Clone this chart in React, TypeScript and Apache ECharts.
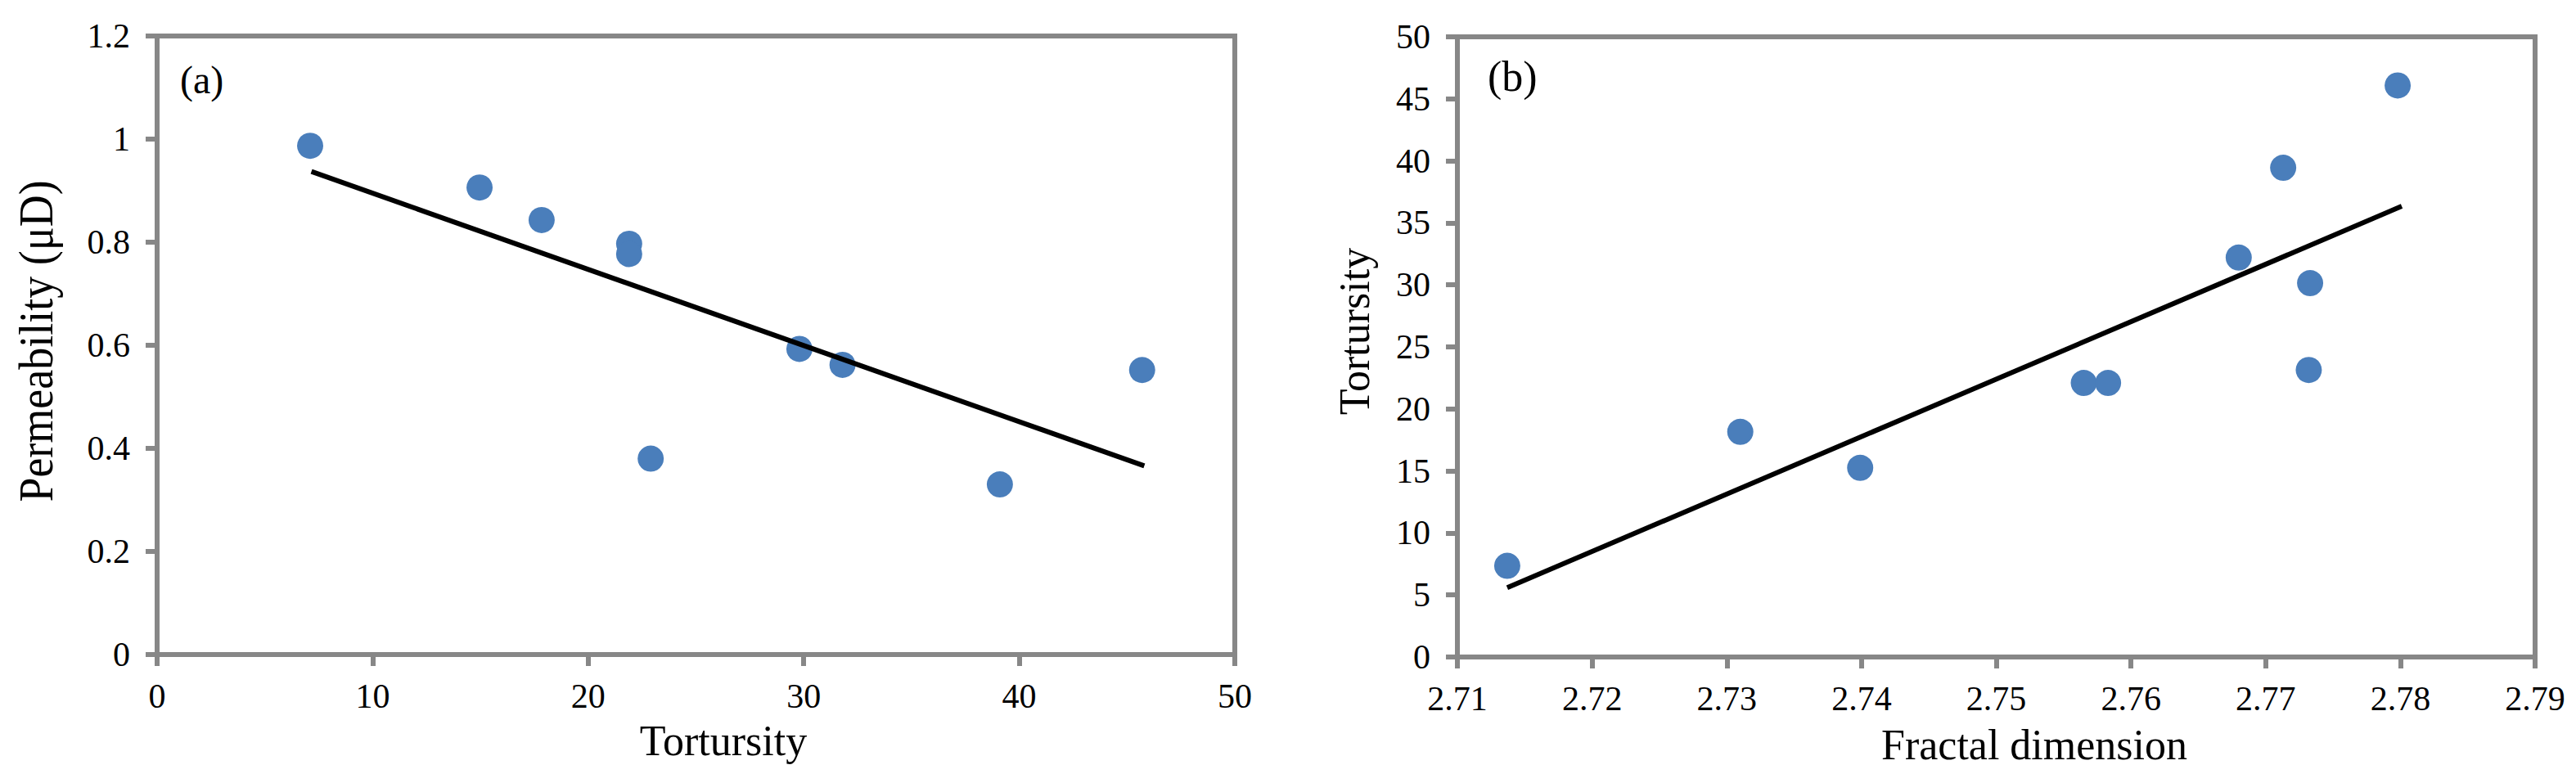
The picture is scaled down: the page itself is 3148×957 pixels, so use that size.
import React, { useEffect, useRef } from "react";
import * as echarts from "echarts";

// Panel (a): permeability vs tortuosity
const tortA = [7.1, 14.96, 17.84, 21.9, 21.9, 22.9, 29.8, 31.8, 39.1, 45.7];
const permA = [0.987, 0.906, 0.843, 0.797, 0.777, 0.38, 0.593, 0.562, 0.33, 0.552];
const trendAX = [7.16, 45.8];
const trendAY = [0.937, 0.366];

// Panel (b): tortuosity vs fractal dimension
const fracB = [2.7137, 2.731, 2.7399, 2.7565, 2.7583, 2.768, 2.7713, 2.7733, 2.7732, 2.7798];
const tortB = [7.35, 18.15, 15.25, 22.09, 22.09, 32.2, 39.44, 30.14, 23.14, 46.08];
const trendBX = [2.7137, 2.7801];
const trendBY = [5.59, 36.34];

const FONT = "'Liberation Serif', 'Times New Roman', serif";
const GRAY = "#878787";
const BLUE = "#4A7EBB";

function axisCommon(extra: any) {
  return {
    axisLine: { show: true, onZero: false, lineStyle: { color: GRAY, width: 6 } },
    axisTick: { show: true, inside: false, length: 14, lineStyle: { color: GRAY, width: 6 } },
    splitLine: { show: false },
    ...extra,
  };
}

export default function App() {
  const ref = useRef<HTMLDivElement>(null);
  useEffect(() => {
    document.body.style.margin = "0";
    const chart = echarts.init(ref.current!, null, { renderer: "svg" });
    const zip = (xs: number[], ys: number[]) => xs.map((x, i) => [x, ys[i]]);
    const lbl = (margin: number, extra: any = {}) => ({ color: "#000", fontFamily: FONT, fontSize: 42, margin, ...extra });
    chart.setOption({
      animation: false,
      backgroundColor: "#fff",
      grid: [
        { left: 192, top: 44, width: 1317, height: 756, show: true, borderColor: GRAY, borderWidth: 6, backgroundColor: "transparent" },
        { left: 1781, top: 45, width: 1317, height: 758, show: true, borderColor: GRAY, borderWidth: 6, backgroundColor: "transparent" },
      ],
      xAxis: [
        axisCommon({ type: "value", gridIndex: 0, min: 0, max: 50, interval: 10, axisLabel: lbl(30) }),
        axisCommon({ type: "value", gridIndex: 1, min: 2.71, max: 2.79, interval: 0.01, axisLabel: lbl(30, { formatter: (v: number) => v.toFixed(2) }) }),
      ],
      yAxis: [
        axisCommon({ type: "value", gridIndex: 0, min: 0, max: 1.2, interval: 0.2, axisLabel: lbl(33) }),
        axisCommon({ type: "value", gridIndex: 1, min: 0, max: 50, interval: 5, axisLabel: lbl(33) }),
      ],
      series: [
        { type: "scatter", xAxisIndex: 0, yAxisIndex: 0, symbol: "circle", symbolSize: 32, itemStyle: { color: BLUE, opacity: 1 }, data: zip(tortA, permA), z: 2 },
        { type: "line", xAxisIndex: 0, yAxisIndex: 0, showSymbol: false, symbol: "none", lineStyle: { color: "#000", width: 6 }, data: zip(trendAX, trendAY), z: 3 },
        { type: "scatter", xAxisIndex: 1, yAxisIndex: 1, symbol: "circle", symbolSize: 32, itemStyle: { color: BLUE, opacity: 1 }, data: zip(fracB, tortB), z: 2 },
        { type: "line", xAxisIndex: 1, yAxisIndex: 1, showSymbol: false, symbol: "none", lineStyle: { color: "#000", width: 6 }, data: zip(trendBX, trendBY), z: 3 },
      ],
      graphic: [
        { type: "text", x: 220, y: 97, style: { text: "(a)", fontFamily: FONT, fontSize: 48, fill: "#000", align: "left", verticalAlign: "middle" } },
        { type: "text", x: 1818, y: 93, style: { text: "(b)", fontFamily: FONT, fontSize: 52, fill: "#000", align: "left", verticalAlign: "middle" } },
        { type: "text", x: 884, y: 905, style: { text: "Tortursity", fontFamily: FONT, fontSize: 52, fill: "#000", align: "center", verticalAlign: "middle" } },
        { type: "text", x: 2486, y: 910, style: { text: "Fractal dimension", fontFamily: FONT, fontSize: 52, fill: "#000", align: "center", verticalAlign: "middle" } },
        { type: "text", x: 44, y: 417, rotation: Math.PI / 2, scaleX: 0.9, style: { text: "Permeability (μD)", fontFamily: FONT, fontSize: 60, fontWeight: 500, fill: "#000", align: "center", verticalAlign: "middle" } },
        { type: "text", x: 1655, y: 405, rotation: Math.PI / 2, style: { text: "Tortursity", fontFamily: FONT, fontSize: 52, fill: "#000", align: "center", verticalAlign: "middle" } },
      ],
    });
    return () => chart.dispose();
  }, []);
  return <div ref={ref} style={{ width: 3148, height: 957 }} />;
}
